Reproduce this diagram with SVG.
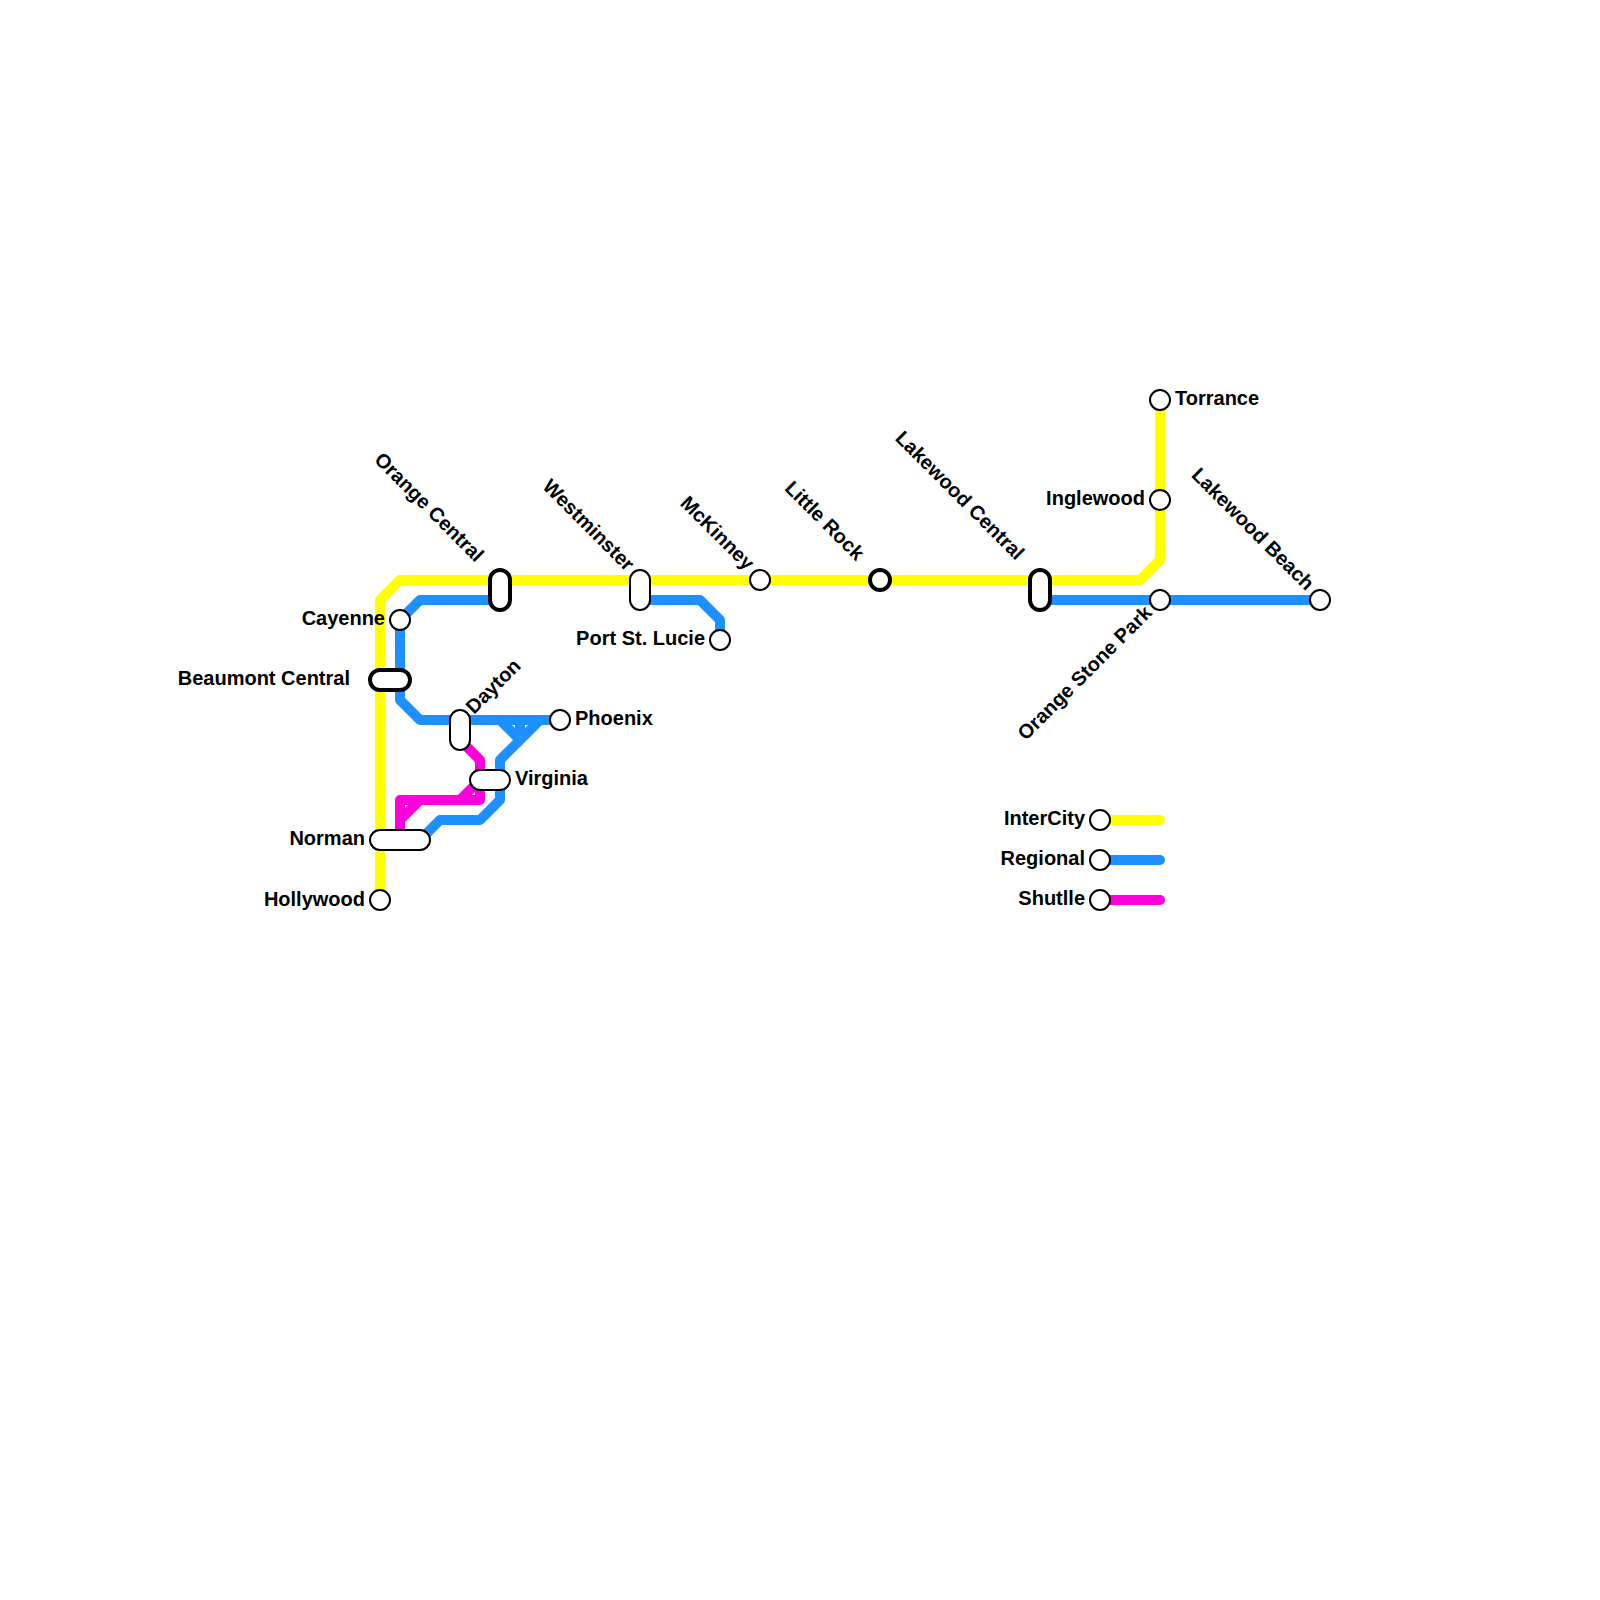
<svg xmlns="http://www.w3.org/2000/svg" width="1600" height="1600" viewBox="0 0 1600 1600">
<style>
.l{fill:none;stroke-width:10;stroke-linejoin:round;stroke-linecap:butt}
.y{stroke:#ffff00}.b{stroke:#1e90ff}.m{stroke:#ff00dd}
.r{stroke-linecap:round}
.s{fill:#fff;stroke:#000;stroke-width:2}
.t{fill:#fff;stroke:#000;stroke-width:4}
text{font-family:"Liberation Sans",Arial,sans-serif;font-weight:700;font-size:20px;fill:#000}
.e{text-anchor:end}
</style>
<rect width="1600" height="1600" fill="#fff"/>
<g id="connectors">
<path class="l y" d="M380 900V600L400 580H1140L1160 560V400"/>
<path class="l b" d="M400 620L420 600H500M400 620V700L420 720H560M640 600H700L720 620V640M1040 600H1320"/>
<path class="l b" d="M500 720L520 740M540 720L500 760V800L480 820H440L420 840M520 720V740"/>
<path class="l m" d="M460 740L480 760V800H400V840M400 820L420 800M460 800L480 780"/>
</g>
<g id="legend-lines">
<path class="l y r" d="M1100 820H1160"/>
<path class="l b r" d="M1100 860H1160"/>
<path class="l m r" d="M1100 900H1160"/>
</g>
<g id="hollywood"><circle class="s" cx="380" cy="900" r="10"/><text class="e" x="365" y="905.500">Hollywood</text></g>
<g id="norman"><rect class="s" x="370" y="830" width="60" height="20" rx="10"/><text class="e" x="365" y="845">Norman</text></g>
<g id="beaumont-central"><rect class="t" x="370" y="670" width="40" height="20" rx="10"/><text class="e" x="350" y="685">Beaumont Central</text></g>
<g id="cayenne"><circle class="s" cx="400" cy="620" r="10"/><text class="e" x="385" y="625">Cayenne</text></g>
<g id="orange-central"><rect class="t" x="490" y="570" width="20" height="40" rx="10"/><text class="e" transform="translate(475.500 563) rotate(45)">Orange Central</text></g>
<g id="dayton"><rect class="s" x="450" y="710" width="20" height="40" rx="10"/><text transform="translate(474 715) rotate(-45)">Dayton</text></g>
<g id="virginia"><rect class="s" x="470" y="770" width="40" height="20" rx="10"/><text x="515" y="785">Virginia</text></g>
<g id="phoenix"><circle class="s" cx="560" cy="720" r="10"/><text x="575" y="725">Phoenix</text></g>
<g id="westminster"><rect class="s" x="630" y="570" width="20" height="40" rx="10"/><text class="e" transform="translate(626 572) rotate(45)">Westminster</text></g>
<g id="port-st-lucie"><circle class="s" cx="720" cy="640" r="10"/><text class="e" x="705" y="645">Port St. Lucie</text></g>
<g id="mckinney"><circle class="s" cx="760" cy="580" r="10"/><text class="e" transform="translate(746 571) rotate(45)">McKinney</text></g>
<g id="little-rock"><circle class="t" cx="880" cy="580" r="10"/><text class="e" transform="translate(856 561.500) rotate(45)">Little Rock</text></g>
<g id="lakewood-central"><rect class="t" x="1030" y="570" width="20" height="40" rx="10"/><text class="e" transform="translate(1016 561) rotate(45)">Lakewood Central</text></g>
<g id="torrance"><circle class="s" cx="1160" cy="400" r="10"/><text x="1175" y="405">Torrance</text></g>
<g id="inglewood"><circle class="s" cx="1160" cy="500" r="10"/><text class="e" x="1145" y="505">Inglewood</text></g>
<g id="orange-stone-park"><circle class="s" cx="1160" cy="600" r="10"/><text class="e" transform="translate(1153 614) rotate(-45)">Orange Stone Park</text></g>
<g id="lakewood-beach"><circle class="s" cx="1320" cy="600" r="10"/><text class="e" transform="translate(1306 591.500) rotate(45)">Lakewood Beach</text></g>
<g id="intercity"><circle class="s" cx="1100" cy="820" r="10"/><text class="e" x="1085" y="825">InterCity</text></g>
<g id="regional"><circle class="s" cx="1100" cy="860" r="10"/><text class="e" x="1085" y="865">Regional</text></g>
<g id="shuttle"><circle class="s" cx="1100" cy="900" r="10"/><text class="e" x="1085" y="905">Shutlle</text></g>
</svg>
